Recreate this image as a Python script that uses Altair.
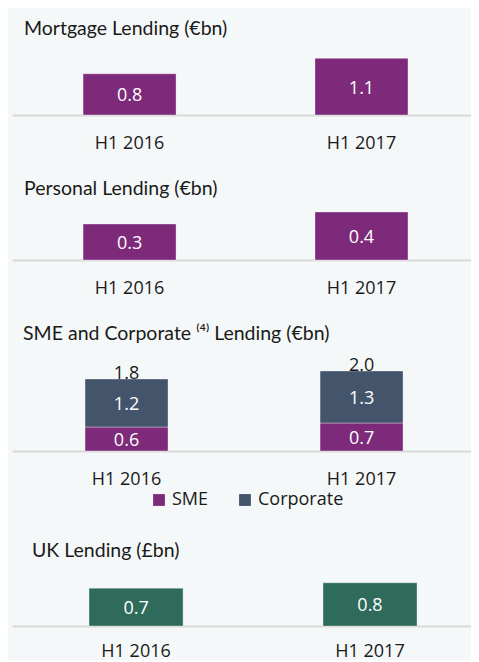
import altair as alt
import pandas as pd

# ---- data ----
periods = ["H1 2016", "H1 2017"]
mortgage = [0.8, 1.1]
personal = [0.3, 0.4]
sme = [0.6, 0.7]
corporate = [1.2, 1.3]
sme_corp_total = [1.8, 2.0]
uk = [0.7, 0.8]
segments = ["SME", "Corporate"]

# ---- style ----
PURPLE = "#7D2A7A"
SLATE = "#44546A"
GREEN = "#2E6B5A"
BG = "#F5F8F8"
AXIS = "#D9D9D9"
TXT = "#1a1a1a"
W = 459
TITLE_FONT = "Lato"
LABEL_FONT = "Open Sans"


def x_enc(pi, po, align, lp=19):
    return alt.X(
        "period:N",
        sort=periods,
        scale=alt.Scale(paddingInner=pi, paddingOuter=po, align=align),
        axis=alt.Axis(
            title=None, labelAngle=0, ticks=False, grid=False,
            domainColor=AXIS, domainWidth=2,
            labelFont=LABEL_FONT, labelFontSize=18, labelColor=TXT,
            labelPadding=lp,
        ),
    )


def title(text, dx, offset):
    return alt.TitleParams(
        text=text, anchor="start", dx=dx, offset=offset,
        font=TITLE_FONT, fontSize=19.5, fontWeight="normal", color=TXT,
        baseline="alphabetic",
    )


def simple_panel(values, color, ttl, dx, offset, height, dmax, pi, po, align, lp=19):
    df = pd.DataFrame({"period": periods, "value": values})
    x = x_enc(pi, po, align, lp)
    y = alt.Y("value:Q", scale=alt.Scale(domain=[0, dmax], nice=False, zero=True), axis=None)
    bars = alt.Chart(df).mark_bar(color=color, stroke="#ffffff", strokeOpacity=0.35, strokeWidth=1).encode(x=x, y=y)
    labels = alt.Chart(df).transform_calculate(mid="datum.value/2").mark_text(
        color="white", font=LABEL_FONT, fontSize=18, baseline="middle", dy=2
    ).encode(
        x=x,
        y=alt.Y("mid:Q", scale=alt.Scale(domain=[0, dmax], nice=False, zero=True), axis=None),
        text=alt.Text("value:Q", format=".1f"),
    )
    return alt.layer(bars, labels).properties(
        width=W, height=height, title=title(ttl, dx, offset)
    )


p1 = simple_panel(mortgage, PURPLE, "Mortgage Lending (€bn)", 12, -8, 69, 1.34, 0.599, 0.289, 0.53)
p2 = simple_panel(personal, PURPLE, "Personal Lending (€bn)", 12, -14, 60, 0.5, 0.599, 0.289, 0.53)
p4 = simple_panel(uk, GREEN, "UK Lending (£bn)", 20, -10, 60, 1.11, 0.598, 0.28, 0.588, lp=16)

# stacked panel
rows = []
for i, p in enumerate(periods):
    rows.append({"period": p, "segment": "SME", "idx": 0, "value": sme[i]})
    rows.append({"period": p, "segment": "Corporate", "idx": 1, "value": corporate[i]})
sdf = pd.DataFrame(rows)
tdf = pd.DataFrame({"period": periods, "total": sme_corp_total})

D3 = 2.6
H3 = 104
x3 = x_enc(0.647, 0.3, 0.518)
yscale3 = alt.Scale(domain=[0, D3], nice=False, zero=True)

stack_base = alt.Chart(sdf).transform_stack(
    stack="value", groupby=["period"], as_=["v0", "v1"],
    sort=[alt.SortField("idx", order="ascending")],
).transform_calculate(mid="(datum.v0 + datum.v1) / 2")

sbars = stack_base.mark_bar(stroke="#ffffff", strokeOpacity=0.35, strokeWidth=1).encode(
    x=x3,
    y=alt.Y("v0:Q", scale=yscale3, axis=None),
    y2="v1:Q",
    color=alt.Color(
        "segment:N",
        scale=alt.Scale(domain=segments, range=[PURPLE, SLATE]),
        legend=alt.Legend(
            title=None, orient="none", direction="horizontal",
            legendX=133, legendY=139, padding=5,
            symbolType="square", symbolSize=140, symbolStrokeWidth=0,
            labelFont=LABEL_FONT, labelFontSize=18, labelColor=TXT,
            columnPadding=27, labelOffset=4,
        ),
    ),
)
stext = stack_base.mark_text(color="white", font=LABEL_FONT, fontSize=18, baseline="middle", dy=2).encode(
    x=x3,
    y=alt.Y("mid:Q", scale=yscale3, axis=None),
    text=alt.Text("value:Q", format=".1f"),
)
ttext = alt.Chart(tdf).mark_text(color=TXT, font=LABEL_FONT, fontSize=18, baseline="bottom", dy=4).encode(
    x=x3,
    y=alt.Y("total:Q", scale=yscale3, axis=None),
    text=alt.Text("total:Q", format=".1f"),
)
p3 = alt.layer(sbars, stext, ttext).properties(
    width=W, height=H3,
    title=title("SME and Corporate ⁽⁴⁾ Lending (€bn)", 11, -12),
)

chart = alt.vconcat(p1, p2, p3, p4, spacing=26).resolve_legend(color="independent").properties(
    background=BG,
    padding={"left": 4, "top": 10, "right": 0, "bottom": 0},
).configure_view(stroke=None)

chart.save("out.html", embed_options={"renderer": "svg", "actions": False})
